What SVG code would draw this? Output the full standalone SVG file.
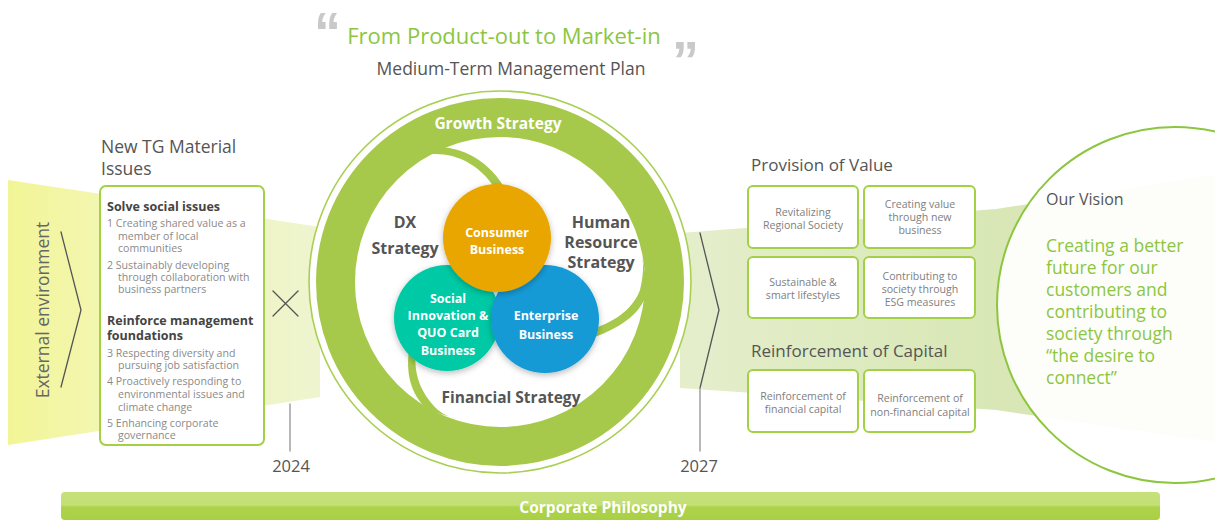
<svg xmlns="http://www.w3.org/2000/svg" width="1215" height="521" viewBox="0 0 1215 521">
  <defs>
    <style>
      text { font-family: "Open Sans", "Noto Sans", sans-serif; }
      .head { font-size: 17.5px; fill: #555; }
      .sub { font-size: 17px; fill: #555; }
      .bold { font-weight: 700; font-size: 12.5px; fill: #444; }
      .item { font-size: 10.6px; fill: #8a8a8a; }
      .cell { font-size: 10.6px; fill: #808080; text-anchor: middle; }
      .box { fill: #fff; stroke: #a2d146; stroke-width: 2; }
      .strat { font-weight: 700; font-size: 16px; fill: #555; text-anchor: middle; }
      .biz { font-weight: 700; font-size: 12.5px; fill: #fff; text-anchor: middle; }
      .vision { font-size: 17.5px; fill: #8cc63f; }
      .year { font-size: 16.5px; fill: #555; text-anchor: middle; }
      .quote { font-family: "Liberation Sans", Arial, sans-serif; font-weight: 700; font-size: 54px; fill: #c9c9c9; }
      .ring { fill: #a6c94c; }
    </style>
    <linearGradient id="leftBand" x1="8" y1="0" x2="320" y2="0" gradientUnits="userSpaceOnUse">
      <stop offset="0" stop-color="#f2f596"/>
      <stop offset="0.3" stop-color="#f3f6b0"/>
      <stop offset="1" stop-color="#eef4cf"/>
    </linearGradient>
    <linearGradient id="rightBand" x1="690" y1="0" x2="1000" y2="0" gradientUnits="userSpaceOnUse">
      <stop offset="0" stop-color="#e4eecb"/>
      <stop offset="1" stop-color="#d8e7b5"/>
    </linearGradient>
    <linearGradient id="bar" x1="0" y1="0" x2="0" y2="1">
      <stop offset="0" stop-color="#c6e17c"/>
      <stop offset="0.47" stop-color="#c3df76"/>
      <stop offset="0.53" stop-color="#aed34b"/>
      <stop offset="1" stop-color="#a9d043"/>
    </linearGradient>
    <filter id="shadow" x="-30%" y="-30%" width="160%" height="160%">
      <feDropShadow dx="0" dy="2" stdDeviation="3" flood-color="#000" flood-opacity="0.28"/>
    </filter>
  </defs>

  <rect width="1215" height="521" fill="#fff"/>

  <!-- background flow bands -->
  <g id="bands">
    <polygon points="8,180 320,227 320,397 8,445" fill="url(#leftBand)"/>
    <polygon points="680,233 996,209 1215,175 1215,442 996,410 680,388" fill="url(#rightBand)"/>
  </g>

  <!-- heading -->
  <g id="heading">
    <text class="quote" x="314" y="50">“</text>
    <text x="504" y="44" text-anchor="middle" style="font-size:22px;fill:#8cc63f">From Product-out to Market-in</text>
    <text class="quote" x="672" y="79">”</text>
    <text x="511" y="75" text-anchor="middle" style="font-size:17.5px;fill:#555">Medium-Term Management Plan</text>
  </g>

  <!-- external environment -->
  <g id="external">
    <text transform="translate(49,310) rotate(-90)" text-anchor="middle" style="font-size:17.5px;fill:#666">External environment</text>
  </g>

  <!-- material issues -->
  <g id="material-issues">
    <text class="head" x="101" y="153">New TG Material</text>
    <text class="head" x="101" y="175">Issues</text>
    <rect class="box" x="100" y="186" width="164" height="259" rx="6"/>
    <text class="bold" x="107" y="211">Solve social issues</text>
    <text class="item" x="107" y="227">1 Creating shared value as a</text>
    <text class="item" x="118" y="240">member of local</text>
    <text class="item" x="118" y="252">communities</text>
    <text class="item" x="107" y="269">2 Sustainably developing</text>
    <text class="item" x="118" y="281">through collaboration with</text>
    <text class="item" x="118" y="293">business partners</text>
    <text class="bold" x="107" y="325">Reinforce management</text>
    <text class="bold" x="107" y="340">foundations</text>
    <text class="item" x="107" y="357">3 Respecting diversity and</text>
    <text class="item" x="118" y="369">pursuing job satisfaction</text>
    <text class="item" x="107" y="385">4 Proactively responding to</text>
    <text class="item" x="118" y="398">environmental issues and</text>
    <text class="item" x="118" y="411">climate change</text>
    <text class="item" x="107" y="427">5 Enhancing corporate</text>
    <text class="item" x="118" y="439">governance</text>
  </g>

  <!-- connectors: chevrons, cross and timeline ticks -->
  <g id="connectors" fill="none" stroke-linecap="round" stroke-linejoin="round">
    <polyline points="61,232 81,310 61,387" stroke="#555" stroke-width="1.3"/>
    <line x1="273" y1="291" x2="298" y2="316" stroke="#555" stroke-width="1.3"/>
    <line x1="298" y1="291" x2="273" y2="316" stroke="#555" stroke-width="1.3"/>
    <line x1="290" y1="404" x2="290" y2="451" stroke="#a0a0a0" stroke-width="1.5"/>
    <polyline points="700,233 719,310 700,388" stroke="#555" stroke-width="1.3"/>
    <line x1="700" y1="388" x2="700" y2="451" stroke="#a0a0a0" stroke-width="1.5"/>
  </g>

  <g id="years">
    <text class="year" x="291" y="472">2024</text>
    <text class="year" x="699" y="472">2027</text>
  </g>

  <!-- strategy wheel -->
  <g id="strategy-wheel">
    <circle cx="500" cy="282" r="191" fill="#fff" stroke="#a8cf52" stroke-width="1.6"/>
    <circle cx="500" cy="282" r="164.5" fill="#fff" stroke="#a6c94c" stroke-width="39"/>
    <path class="ring" d="M437,147 C462,147 490,160 507,192 L499,195 C483,166 459,154 435,154 C418,154 402,160 392,168 Z"/>
    <path class="ring" d="M648,290 C642,312 625,326 592,338 L590,330 C620,320 634,306 640,290 C643,278 644,266 642,255 Z"/>
    <path class="ring" d="M428,410 C414,398 405,378 409,350 L416,350 C413,374 421,394 438,410 C444,415 452,418 460,420 Z"/>
    <text x="498" y="129" text-anchor="middle" style="font-weight:700;font-size:15.5px;fill:#fff">Growth Strategy</text>
    <text class="strat" x="405" y="228">DX</text>
    <text class="strat" x="405" y="254">Strategy</text>
    <text class="strat" x="601" y="228">Human</text>
    <text class="strat" x="601" y="248">Resource</text>
    <text class="strat" x="601" y="268">Strategy</text>
    <text class="strat" x="511" y="403" style="font-size:15.5px">Financial Strategy</text>
  </g>

  <g id="social-innovation">
    <circle cx="447" cy="318" r="53" fill="#00c9a5" filter="url(#shadow)"/>
    <text class="biz" x="448" y="303">Social</text>
    <text class="biz" x="448" y="320">Innovation &amp;</text>
    <text class="biz" x="448" y="337">QUO Card</text>
    <text class="biz" x="448" y="355">Business</text>
  </g>
  <g id="enterprise">
    <circle cx="545" cy="319" r="54" fill="#129ad6" filter="url(#shadow)"/>
    <text class="biz" x="546" y="320">Enterprise</text>
    <text class="biz" x="546" y="339">Business</text>
  </g>
  <g id="consumer">
    <circle cx="497" cy="238" r="54" fill="#e9a500" filter="url(#shadow)"/>
    <text class="biz" x="497" y="237">Consumer</text>
    <text class="biz" x="497" y="254">Business</text>
  </g>

  <!-- provision of value -->
  <g id="provision-of-value">
    <text class="sub" x="751" y="171">Provision of Value</text>
    <rect class="box" x="748" y="186" width="110" height="62" rx="5"/>
    <text class="cell" x="803" y="216">Revitalizing</text>
    <text class="cell" x="803" y="229">Regional Society</text>
    <rect class="box" x="864" y="186" width="111" height="62" rx="5"/>
    <text class="cell" x="920" y="208">Creating value</text>
    <text class="cell" x="920" y="221">through new</text>
    <text class="cell" x="920" y="234">business</text>
    <rect class="box" x="748" y="257" width="110" height="61" rx="5"/>
    <text class="cell" x="803" y="286">Sustainable &amp;</text>
    <text class="cell" x="803" y="299">smart lifestyles</text>
    <rect class="box" x="864" y="257" width="111" height="61" rx="5"/>
    <text class="cell" x="920" y="280">Contributing to</text>
    <text class="cell" x="920" y="293">society through</text>
    <text class="cell" x="920" y="306">ESG measures</text>
  </g>

  <!-- reinforcement of capital -->
  <g id="reinforcement-of-capital">
    <text class="sub" x="751" y="357">Reinforcement of Capital</text>
    <rect class="box" x="748" y="370" width="110" height="62" rx="5"/>
    <text class="cell" x="803" y="400">Reinforcement of</text>
    <text class="cell" x="803" y="413">financial capital</text>
    <rect class="box" x="864" y="370" width="111" height="62" rx="5"/>
    <text class="cell" x="920" y="402">Reinforcement of</text>
    <text class="cell" x="920" y="416">non-financial capital</text>
  </g>

  <!-- vision -->
  <g id="our-vision">
    <circle cx="1175" cy="305" r="178" fill="#fff" fill-opacity="0.93" stroke="#8cc63f" stroke-width="2"/>
    <text x="1046" y="205" style="font-size:16px;fill:#555">Our Vision</text>
    <text class="vision" x="1046" y="252">Creating a better</text>
    <text class="vision" x="1046" y="274">future for our</text>
    <text class="vision" x="1046" y="296">customers and</text>
    <text class="vision" x="1046" y="318">contributing to</text>
    <text class="vision" x="1046" y="340">society through</text>
    <text class="vision" x="1046" y="362">“the desire to</text>
    <text class="vision" x="1046" y="384">connect”</text>
  </g>

  <!-- foundation bar -->
  <g id="corporate-philosophy">
    <rect x="61" y="492" width="1099" height="28" rx="4" fill="url(#bar)"/>
    <text x="603" y="513" text-anchor="middle" style="font-weight:700;font-size:15.5px;fill:#fff">Corporate Philosophy</text>
  </g>
</svg>
